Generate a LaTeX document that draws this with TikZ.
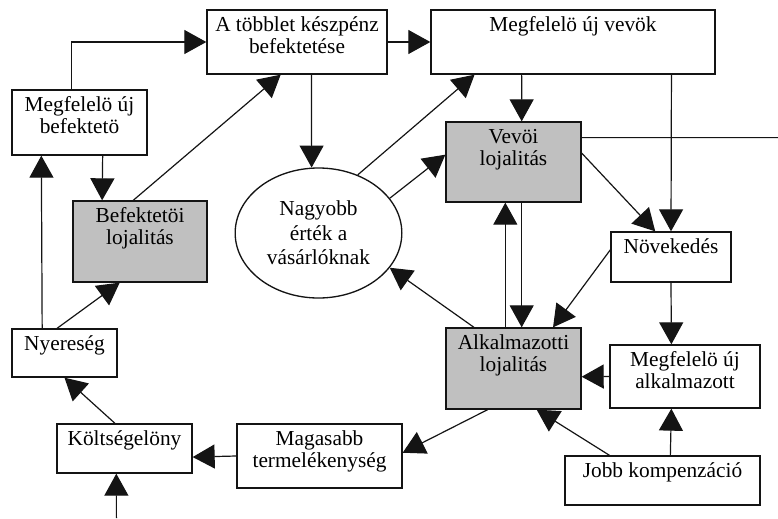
\documentclass[tikz,border=0pt]{standalone}
\usepackage{fontspec}
\setmainfont{Liberation Serif}
\usetikzlibrary{arrows.meta,calc,shapes.geometric}
\definecolor{loyal}{RGB}{192,192,192}
\definecolor{ink}{RGB}{20,20,20}
\tikzset{
  % ---- boxes ------------------------------------------------------------
  box/.style={rectangle, draw=ink, line width=1pt, fill=white, inner sep=0pt},
  gbox/.style={box, fill=loyal},
  txt/.style={font=\fontsize{16}{16.5}\selectfont, align=center,
              inner xsep=0pt, inner ysep=5.5pt},
  ell/.style={ellipse, draw=ink, line width=1pt, inner sep=0pt,
              minimum width=125pt, minimum height=97.5pt,
              font=\fontsize{16}{18.5}\selectfont, align=center},
  % ---- arrows -----------------------------------------------------------
  ar/.style={-{Triangle[length=16.5pt,width=18pt]}, draw=ink, line width=0.9pt},
  ln/.style={draw=ink, line width=0.9pt},
}

\begin{document}
\begin{tikzpicture}[x=0.75pt,y=-0.75pt]

\useasboundingbox (0,0) rectangle (778,518);

% box from (x1,y1) to (x2,y2), text hung from the top edge
\newcommand{\mkbox}[7]{%
  \node[#6, minimum width={(#4-#2)*0.75pt}, minimum height={(#5-#3)*0.75pt}]
    (#1) at ({(#2+#4)/2},{(#3+#5)/2}) {};
  \node[txt, anchor=north] (#1t) at (#1.north) {#7};}
% points part way along a side (W/E measured from the top)
\newcommand{\onN}[2]{($(#1.north west)!#2!(#1.north east)$)}
\newcommand{\onS}[2]{($(#1.south west)!#2!(#1.south east)$)}
\newcommand{\onW}[2]{($(#1.north west)!#2!(#1.south west)$)}
\newcommand{\onE}[2]{($(#1.north east)!#2!(#1.south east)$)}

% ---- top row --------------------------------------------------------------
\mkbox{tobblet}{207}{10}{387}{74}{box}{A többlet készpénz\\befektetése}
\mkbox{vevok}{431}{10}{715}{74}{box}{Megfelelö új vevök}

% ---- left column ----------------------------------------------------------
\mkbox{ujbef}{12}{90}{147}{155}{box}{Megfelelö új\\befektetö}
\mkbox{befloj}{73}{201}{207}{282}{gbox}{Befektetöi\\lojalitás}
\mkbox{nyer}{12}{329}{117}{377}{box}{Nyereség}
\mkbox{koltseg}{57}{424}{192}{473}{box}{Költségelöny}
\mkbox{magas}{237}{424}{402}{488}{box}{Magasabb\\termelékenység}

% ---- centre and right -----------------------------------------------------
\node[ell] (ertek) at (318.5,233) {Nagyobb\\érték a\\vásárlóknak};
\mkbox{vevoloj}{446}{122}{581}{202}{gbox}{Vevöi\\lojalitás}
\mkbox{alkloj}{446}{328}{581}{409}{gbox}{Alkalmazotti\\lojalitás}
\mkbox{novek}{611}{232}{731}{282}{box}{Növekedés}
\mkbox{ujalk}{610}{345}{760}{408}{box}{Megfelelö új\\alkalmazott}
\mkbox{jobb}{565}{456}{760}{505}{box}{Jobb kompenzáció}

\coordinate (kivezet) at (778,137.6);
\coordinate (bemenet) at (116.4,518);

% ---- connectors -----------------------------------------------------------
\draw[ar] \onN{ujbef}{0.44} |- (tobblet.west);
\draw[ar] (tobblet.east) -- (vevok.west);
\draw[ar] \onS{ujbef}{0.67} -- \onN{befloj}{0.22};
\draw[ar] \onN{befloj}{0.45} -- \onS{tobblet}{0.41};
\draw[ar] \onS{tobblet}{0.58} -- (ertek.96);
\draw[ar] (ertek.56) -- \onS{vevok}{0.155};
\draw[ar] (ertek.26) -- \onW{vevoloj}{0.41};
\draw[ar] \onS{vevok}{0.32} -- \onN{vevoloj}{0.56};
\draw[ar] \onS{vevok}{0.845} -- (novek.north);
\draw[ln] \onE{vevoloj}{0.2} -- (kivezet);
\draw[ar] \onE{vevoloj}{0.39} -- \onN{novek}{0.37};
\draw[ar] \onN{alkloj}{0.44} -- \onS{vevoloj}{0.44};
\draw[ar] \onS{vevoloj}{0.56} -- \onN{alkloj}{0.56};
\draw[ar] \onW{novek}{0.36} -- \onN{alkloj}{0.79};
\draw[ar] \onN{alkloj}{0.21} -- (ertek.-26);
\draw[ar] (novek.south) -- \onN{ujalk}{0.41};
\draw[ar] (ujalk.west) -- \onE{alkloj}{0.6};
\draw[ar] \onN{jobb}{0.54} -- \onS{ujalk}{0.41};
\draw[ar] \onN{jobb}{0.23} -- \onS{alkloj}{0.67};
\draw[ar] \onS{alkloj}{0.31} -- \onE{magas}{0.45};
\draw[ar] (magas.west) -- \onE{koltseg}{0.67};
\draw[ar] \onN{koltseg}{0.43} -- (nyer.south);
\draw[ar] \onN{nyer}{0.43} -- \onS{befloj}{0.35};
\draw[ar] \onN{nyer}{0.29} -- \onS{ujbef}{0.22};
\draw[ar] (bemenet) -- \onS{koltseg}{0.44};

\end{tikzpicture}
\end{document}
